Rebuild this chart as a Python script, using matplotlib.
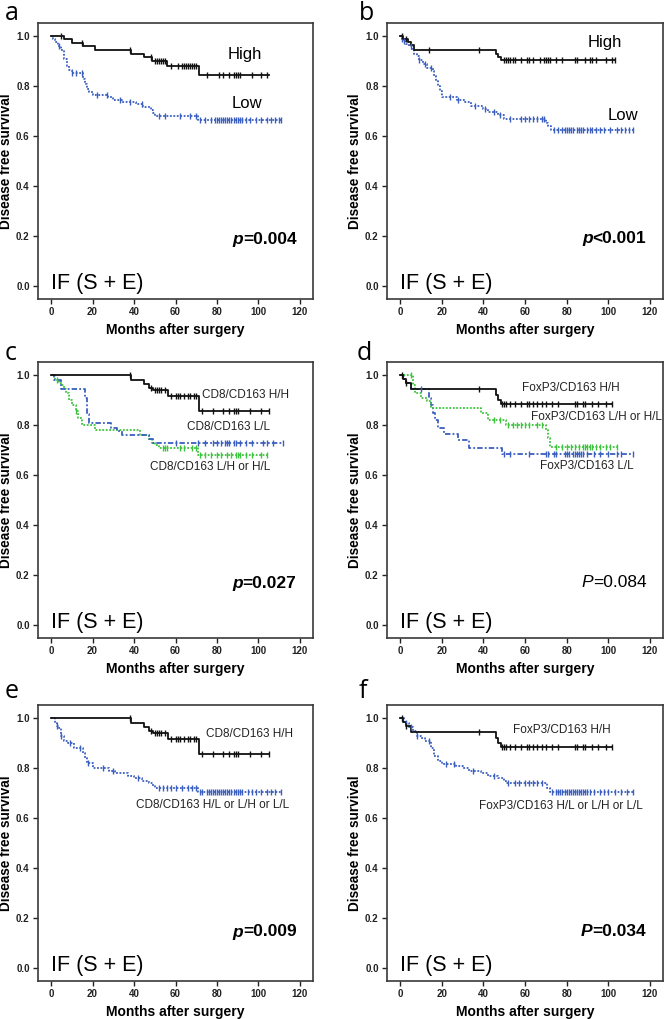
import numpy as np
import matplotlib
matplotlib.use("Agg")
import matplotlib.pyplot as plt

plt.rcParams['font.family'] = ['Liberation Sans', 'DejaVu Sans']

# ---------------- data ----------------
# panel a
a_high_t = [0, 6, 10, 15.5, 21, 38.5, 45, 48.5, 56, 71.5]
a_high_s = [1.0, 0.987, 0.973, 0.96, 0.943, 0.93, 0.915, 0.9, 0.88, 0.843]
a_high_end = 105
a_high_c = [5, 15, 38, 48, 50, 51, 52, 53, 54, 55, 58, 61, 63, 64, 65, 66, 67, 68, 69, 70,
            75, 81, 83, 86, 88, 89, 90, 91, 97, 101, 104]
a_low_t = [0, 1, 2, 3.5, 5, 6, 7.5, 8.5, 10, 15.5, 16.5, 17.5, 18.5, 20, 27.5, 30, 34, 41,
           44.5, 48, 49, 50, 71]
a_low_s = [1.0, 0.99, 0.975, 0.96, 0.945, 0.91, 0.88, 0.865, 0.853, 0.83, 0.81, 0.79, 0.775,
           0.765, 0.755, 0.743, 0.737, 0.73, 0.716, 0.705, 0.693, 0.679, 0.663]
a_low_end = 111
a_low_c = [4, 10, 12, 15, 22, 27, 33, 38, 44, 52, 55, 62, 67, 70, 72, 74, 77, 79, 80, 81, 82,
           83, 84, 85, 86, 87, 88, 89, 90, 91, 92, 94, 96, 99, 101, 104, 106, 108, 110, 111]

# panel b
b_high_t = [0, 1.5, 4, 5, 6.5, 46, 47, 48.5]
b_high_s = [1.0, 0.987, 0.975, 0.963, 0.945, 0.93, 0.917, 0.903]
b_high_end = 103
b_high_c = [1, 3, 14, 38, 50, 51, 52, 53, 54, 55, 58, 61, 62, 64, 67, 69, 70, 71, 72, 75,
            78, 84, 85, 89, 91, 92, 94, 99, 102, 103]
b_low_t = [0, 1, 2, 3, 4.3, 5.5, 6.7, 8, 9, 10.8, 13, 15.6, 16.5, 17.3, 18, 19, 20, 27.5,
           31, 34, 40, 42, 47, 50, 70, 71, 72.5]
b_low_s = [1.0, 0.99, 0.98, 0.97, 0.96, 0.945, 0.93, 0.92, 0.905, 0.89, 0.873, 0.86, 0.84,
           0.82, 0.8, 0.78, 0.757, 0.745, 0.735, 0.722, 0.71, 0.697, 0.683, 0.667, 0.653,
           0.64, 0.625]
b_low_end = 112
b_low_c = [1, 2, 5, 9, 12, 15, 24, 28, 36, 41, 45, 48, 53, 58, 60, 62, 64, 66, 68, 69, 74,
           76, 78, 79, 80, 81, 82, 83, 85, 86, 87, 88, 90, 91, 92, 94, 96, 98, 101, 104, 106,
           108, 110, 112]

# panel c / e  (CD8/CD163 H/H)
cd8_hh_t = [0, 38.5, 45, 47, 49, 56.5, 71.5]
cd8_hh_s = [1.0, 0.98, 0.963, 0.95, 0.942, 0.917, 0.858]
cd8_hh_end = 105
cd8_hh_c = [38, 48, 50, 51, 52, 53, 55, 58, 60, 61, 62, 64, 66, 67, 69, 70, 73, 78, 83, 86,
            88, 89, 90, 96, 101, 105]
c_ll_t = [0, 1.5, 5, 16.5, 17.5, 18.5, 29, 32, 34, 47, 49]
c_ll_s = [1.0, 0.98, 0.945, 0.91, 0.845, 0.81, 0.787, 0.775, 0.76, 0.745, 0.729]
c_ll_end = 112
c_ll_c = [60, 71, 74, 78, 80, 82, 84, 85, 86, 88, 89, 91, 94, 97, 102, 104, 107, 112]
c_lh_t = [0, 2, 4, 5, 6, 7, 8.5, 10, 12, 13, 15, 21, 43, 47, 48.5, 50, 52, 71]
c_lh_s = [1.0, 0.98, 0.97, 0.96, 0.945, 0.93, 0.9, 0.88, 0.855, 0.83, 0.8, 0.78, 0.76, 0.745,
          0.73, 0.72, 0.71, 0.68]
c_lh_end = 104
c_lh_c = [3, 12, 54, 55, 56, 62, 64, 68, 70, 72, 74, 77, 80, 82, 85, 87, 89, 90, 91, 94, 97,
          101, 104]

# panel d / f  (FoxP3/CD163 H/H)
fox_hh_t = [0, 1.5, 3, 5, 46, 47, 48.5]
fox_hh_s = [1.0, 0.985, 0.97, 0.945, 0.92, 0.9, 0.885]
fox_hh_end = 102
fox_hh_c = [1, 3, 38, 49, 50, 51, 53, 55, 58, 61, 62, 64, 66, 68, 70, 73, 76, 84, 85, 88, 89,
            92, 95, 99, 102]
d_lh_t = [0, 6, 7, 10, 13, 15, 39, 42, 51, 70, 71, 72]
d_lh_s = [1.0, 0.96, 0.93, 0.91, 0.895, 0.87, 0.85, 0.82, 0.8, 0.78, 0.75, 0.713]
d_lh_end = 104
d_lh_c = [5, 45, 48, 52, 54, 56, 58, 60, 62, 66, 68, 75, 78, 80, 82, 84, 86, 88, 89, 90, 91,
          92, 94, 96, 99, 101, 104]
d_ll_t = [0, 2, 3, 5, 14, 15, 16, 17, 18, 21, 28, 33, 49]
d_ll_s = [1.0, 0.985, 0.97, 0.945, 0.91, 0.88, 0.85, 0.82, 0.79, 0.765, 0.74, 0.71, 0.685]
d_ll_end = 112
d_ll_c = [10, 50, 53, 62, 70, 71, 74, 75, 79, 80, 81, 83, 84, 85, 86, 87, 88, 90, 93, 96,
          100, 104, 106, 112]

# panel e
e_low_t = [0, 2, 3, 4, 5, 6, 8, 11, 15.5, 16.5, 17.5, 20, 28, 31, 37, 40, 44, 47, 49, 50, 71]
e_low_s = [1.0, 0.98, 0.97, 0.96, 0.93, 0.91, 0.9, 0.88, 0.86, 0.84, 0.82, 0.8, 0.79, 0.78,
           0.77, 0.76, 0.75, 0.74, 0.73, 0.72, 0.705]
e_low_end = 111
e_low_c = [3, 5, 9, 14, 18, 25, 30, 42, 52, 54, 56, 58, 60, 63, 66, 68, 70, 72, 73, 75, 76,
           77, 78, 79, 80, 81, 82, 83, 84, 85, 86, 87, 88, 89, 90, 91, 92, 95, 97, 99, 101,
           104, 106, 108, 111]

# panel f
f_low_t = [0, 2, 4.5, 6, 8, 10, 12, 15, 16.5, 18, 20, 27, 30, 33, 39, 42, 47, 50, 51, 70.5, 72]
f_low_s = [1.0, 0.98, 0.965, 0.95, 0.93, 0.92, 0.91, 0.88, 0.85, 0.83, 0.815, 0.81, 0.8,
           0.79, 0.78, 0.77, 0.76, 0.75, 0.74, 0.72, 0.705]
f_low_end = 112
f_low_c = [3, 5, 8, 14, 22, 26, 35, 45, 52, 55, 57, 60, 62, 64, 66, 68, 73, 75, 76, 77, 78,
           79, 80, 81, 82, 83, 84, 85, 86, 87, 88, 89, 90, 91, 93, 96, 98, 100, 103, 106,
           109, 112]

# ---------------- styles ----------------
BLACK = '#111111'
BLUE = '#3a5fc0'
GREEN = '#3cc43c'
ST_SOLID = '-'
ST_DOT = (0, (1.0, 0.9))
ST_DASHDOT = (0, (3.0, 1.2, 1.0, 1.2))
LABEL_C = '#222222'

fig = plt.figure(figsize=(6.64, 10.19), dpi=100)

W, H = 664.0, 1019.0
cols = [(38, 275), (387, 276)]
rows = [23, 362, 705]
AX_H = 276
letter_pos = {'a': (5, 20), 'b': (359, 20), 'c': (5, 360), 'd': (357, 360),
              'e': (5, 698), 'f': (359, 698)}


def make_ax(r, c):
    left, w = cols[c]
    top = rows[r]
    return fig.add_axes([left / W, 1 - (top + AX_H) / H, w / W, AX_H / H])


def km(ax, t, s, end, cens, color, ls, lw=1.3):
    tt = list(t) + [end]
    ss = list(s) + [s[-1]]
    ax.step(tt, ss, where='post', color=color, linestyle=ls, lw=lw, zorder=3)
    ct = np.array(cens, dtype=float)
    idx = np.searchsorted(np.array(t, dtype=float), ct, side='right') - 1
    cy = np.array(s)[idx]
    ax.plot(ct, cy, linestyle='none', marker='|', markersize=4.5, mew=1.0,
            color=color, zorder=4)


def ptext(ax, letter, rest, py, bold):
    w = 'bold' if bold else 'normal'
    t = ax.text(118.3, py, rest, fontsize=12.5, fontweight=w, ha='right', va='bottom',
                zorder=5)
    ax.annotate(letter, xy=(0, 0), xycoords=t, fontsize=12.5, fontweight=w,
                fontstyle='italic', ha='right', va='bottom', zorder=5)


def style(ax, letter):
    ax.set_xlim(-6.3, 126.3)
    ax.set_ylim(-0.052, 1.052)
    ax.set_xticks(np.arange(0, 121, 20))
    ax.set_yticks(np.arange(0, 1.01, 0.2))
    ax.set_yticklabels([f'{v:.1f}' for v in np.arange(0, 1.01, 0.2)])
    for lab in ax.get_xticklabels() + ax.get_yticklabels():
        lab.set_fontweight('bold')
    ax.tick_params(direction='out', length=3.5, width=1.0, labelsize=7, pad=2.5,
                   colors='#222222')
    for sp in ax.spines.values():
        sp.set_linewidth(1.2)
        sp.set_color('#3a3a3a')
    ax.set_ylabel('Disease free survival', fontsize=9.8, fontweight='bold', va='center')
    ax.yaxis.set_label_coords(-0.115, 0.5)
    ax.set_xlabel('Months after surgery', fontsize=10, fontweight='bold', va='center')
    ax.xaxis.set_label_coords(0.5, -0.112)
    ax.text(0, 0.01, 'IF (S + E)', fontsize=15.5, ha='left', va='center', zorder=5)
    lx, ly = letter_pos[letter]
    fig.text(lx / W, 1 - ly / H, letter, fontsize=18, family='Open Sans',
             ha='left', va='baseline')


# panel a
ax = make_ax(0, 0)
km(ax, a_low_t, a_low_s, a_low_end, a_low_c, BLUE, ST_DOT)
km(ax, a_high_t, a_high_s, a_high_end, a_high_c, BLACK, ST_SOLID)
style(ax, 'a')
ptext(ax, 'p', '=0.004', 0.155, True)
ax.text(85.3, 0.924, 'High', fontsize=12, va='center')
ax.text(87.2, 0.728, 'Low', fontsize=12, va='center')

# panel b
ax = make_ax(0, 1)
km(ax, b_low_t, b_low_s, b_low_end, b_low_c, BLUE, ST_DOT)
km(ax, b_high_t, b_high_s, b_high_end, b_high_c, BLACK, ST_SOLID)
style(ax, 'b')
ptext(ax, 'p', '<0.001', 0.16, True)
ax.text(90, 0.974, 'High', fontsize=12, va='center')
ax.text(99.6, 0.683, 'Low', fontsize=12, va='center')

# panel c
ax = make_ax(1, 0)
km(ax, c_lh_t, c_lh_s, c_lh_end, c_lh_c, GREEN, ST_DOT)
km(ax, c_ll_t, c_ll_s, c_ll_end, c_ll_c, BLUE, ST_DASHDOT)
km(ax, cd8_hh_t, cd8_hh_s, cd8_hh_end, cd8_hh_c, BLACK, ST_SOLID)
style(ax, 'c')
ptext(ax, 'p', '=0.027', 0.137, True)
ax.text(73, 0.92, 'CD8/CD163 H/H', fontsize=8.5, va='center', color=LABEL_C)
ax.text(65.7, 0.793, 'CD8/CD163 L/L', fontsize=8.5, va='center', color=LABEL_C)
ax.text(47.7, 0.633, 'CD8/CD163 L/H or H/L', fontsize=8.5, va='center', color=LABEL_C)

# panel d
ax = make_ax(1, 1)
km(ax, d_ll_t, d_ll_s, d_ll_end, d_ll_c, BLUE, ST_DASHDOT)
km(ax, d_lh_t, d_lh_s, d_lh_end, d_lh_c, GREEN, ST_DOT)
km(ax, fox_hh_t, fox_hh_s, fox_hh_end, fox_hh_c, BLACK, ST_SOLID)
style(ax, 'd')
ptext(ax, 'P', '=0.084', 0.14, False)
ax.text(58.6, 0.947, 'FoxP3/CD163 H/H', fontsize=8.5, va='center', color=LABEL_C)
ax.text(62.7, 0.833, 'FoxP3/CD163 L/H or H/L', fontsize=8.5, va='center', color=LABEL_C)
ax.text(67.1, 0.637, 'FoxP3/CD163 L/L', fontsize=8.5, va='center', color=LABEL_C)

# panel e
ax = make_ax(2, 0)
km(ax, e_low_t, e_low_s, e_low_end, e_low_c, BLUE, ST_DOT)
km(ax, cd8_hh_t, cd8_hh_s, cd8_hh_end, cd8_hh_c, BLACK, ST_SOLID)
style(ax, 'e')
ptext(ax, 'p', '=0.009', 0.114, True)
ax.text(74.7, 0.937, 'CD8/CD163 H/H', fontsize=8.5, va='center', color=LABEL_C)
ax.text(41, 0.653, 'CD8/CD163 H/L or L/H or L/L', fontsize=8.5, va='center', color=LABEL_C)

# panel f
ax = make_ax(2, 1)
km(ax, f_low_t, f_low_s, f_low_end, f_low_c, BLUE, ST_DOT)
km(ax, fox_hh_t, fox_hh_s, fox_hh_end, fox_hh_c, BLACK, ST_SOLID)
style(ax, 'f')
ptext(ax, 'P', '=0.034', 0.117, True)
ax.text(54.1, 0.953, 'FoxP3/CD163 H/H', fontsize=8.5, va='center', color=LABEL_C)
ax.text(38, 0.647, 'FoxP3/CD163 H/L or L/H or L/L', fontsize=8.5, va='center', color=LABEL_C)

fig.savefig('out.png', dpi=100)
